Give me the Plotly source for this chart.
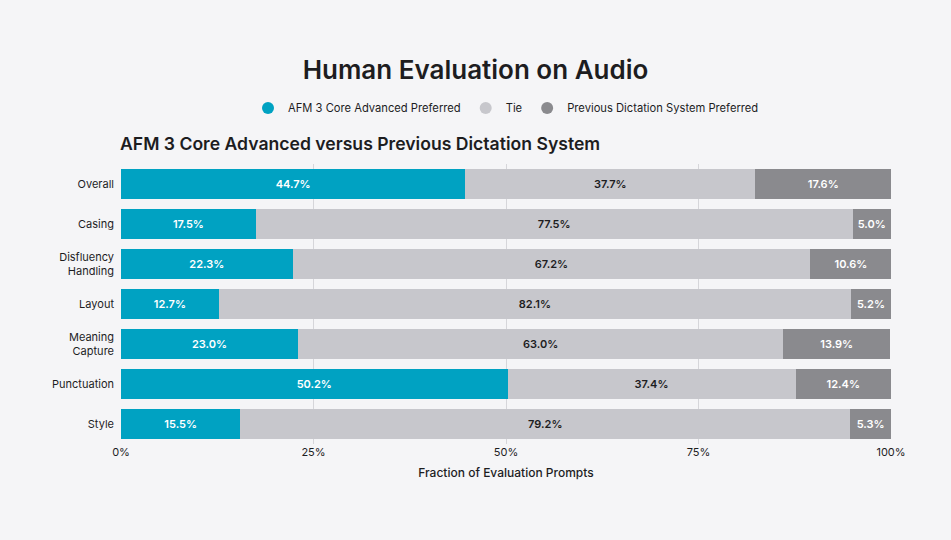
import plotly.graph_objects as go

categories = ["Overall", "Casing", "Disfluency<br>Handling", "Layout", "Meaning<br>Capture", "Punctuation", "Style"]
afm = [44.7, 17.5, 22.3, 12.7, 23.0, 50.2, 15.5]
tie = [37.7, 77.5, 67.2, 82.1, 63.0, 37.4, 79.2]
prev = [17.6, 5.0, 10.6, 5.2, 13.9, 12.4, 5.3]
tick_vals = [0, 25, 50, 75, 100]
tick_text = ["0%", "25%", "50%", "75%", "100%"]

series = [
    ("AFM 3 Core Advanced Preferred", afm, "#00a2c2", "white"),
    ("Tie", tie, "#c7c7cc", "#1d1d1f"),
    ("Previous Dictation System Preferred", prev, "#8a8a8e", "white"),
]

fig = go.Figure()
for name, vals, color, tcol in series:
    fig.add_trace(go.Bar(
        y=categories, x=vals, orientation="h", name=name,
        marker=dict(color=color, line=dict(width=0)),
        text=[f"{v:.1f}%" for v in vals], textposition="inside",
        insidetextanchor="middle",
        textfont=dict(color=tcol, size=11, family="Inter", weight=600),
        showlegend=False, hoverinfo="skip",
    ))
for name, vals, color, tcol in series:
    fig.add_trace(go.Scatter(
        x=[None], y=[None], mode="markers", name=name,
        marker=dict(color=color, size=12, symbol="circle"),
    ))

fig.update_layout(
    barmode="stack", bargap=0.25,
    width=951, height=540,
    paper_bgcolor="#f5f5f7", plot_bgcolor="#f5f5f7",
    margin=dict(l=121, r=60, t=164, b=96),
    font=dict(family="Inter", color="#1d1d1f", size=11),
    title=dict(text="Human Evaluation on Audio", x=0.5, xanchor="center",
               y=1 - 70/540, yanchor="middle",
               font=dict(size=26, family="Inter", color="#1d1d1f", weight=600)),
    legend=dict(orientation="h", x=0.5, xanchor="center", y=1 + (164-108)/280, yanchor="middle",
                font=dict(size=11.2, family="Inter"), bgcolor="rgba(0,0,0,0)",
                traceorder="normal", itemsizing="constant"),
    uniformtext=dict(mode="show", minsize=10),
    annotations=[dict(text="AFM 3 Core Advanced versus Previous Dictation System",
                      xref="paper", yref="paper", x=0, y=1 + (164-143)/280,
                      xanchor="left", yanchor="middle", showarrow=False, xshift=-3,
                      font=dict(size=17.6, family="Inter", color="#1d1d1f", weight=600))],
)
fig.update_xaxes(range=[0, 100], tickvals=tick_vals, ticktext=tick_text,
                 showgrid=True, gridcolor="#d6d6da", gridwidth=1, zeroline=False,
                 tickfont=dict(size=11), ticks="", fixedrange=True,
                 title=dict(text="Fraction of Evaluation Prompts", font=dict(size=12, weight=500), standoff=10))
fig.update_yaxes(autorange="reversed", showgrid=False, ticks="", ticklabelstandoff=6,
                 tickfont=dict(size=11))

fig.write_html("out.html")
